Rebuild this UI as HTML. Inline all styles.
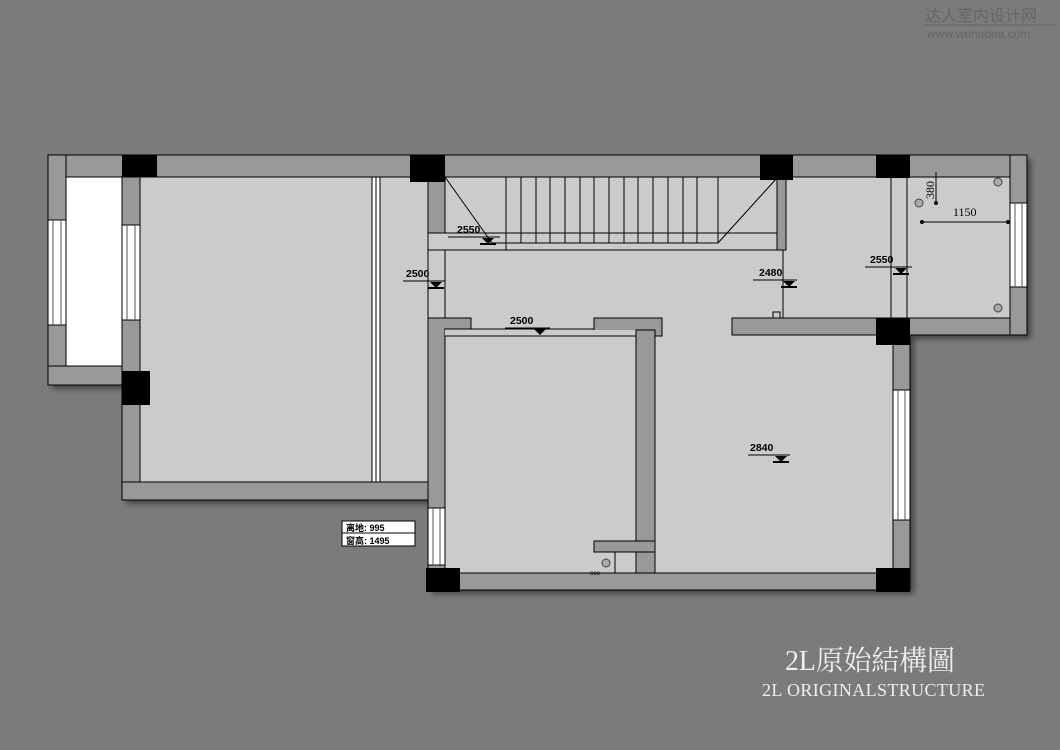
<!DOCTYPE html>
<html><head><meta charset="utf-8"><style>
html,body{margin:0;padding:0;background:#7b7b7b;width:1060px;height:750px;overflow:hidden}
svg{display:block}
.t{font-family:"Liberation Sans",Arial,sans-serif;font-weight:bold;font-size:10.5px;fill:#000}
</style></head><body>
<svg width="1060" height="750" viewBox="0 0 1060 750" xmlns="http://www.w3.org/2000/svg">
<defs>
<filter id="sh" x="-5%" y="-5%" width="115%" height="115%"><feDropShadow dx="4" dy="4" stdDeviation="3" flood-color="#000" flood-opacity="0.45"/></filter>
</defs>
<rect width="1060" height="750" fill="#7b7b7b"/>
<text x="925" y="21" font-family="'Liberation Sans','Noto Sans CJK SC',sans-serif" font-size="16" fill="#666">达人室内设计网</text>
<line x1="925" y1="25" x2="1055" y2="25" stroke="#666" stroke-width="1"/>
<text x="927" y="38" font-family="'Liberation Sans',sans-serif" font-size="12" fill="#666">www.wonadea.com</text>

<g filter="url(#sh)">
<rect x="48" y="155" width="979" height="22" fill="#999"/>
<rect x="48" y="155" width="18" height="230" fill="#999"/>
<rect x="48" y="366" width="92" height="19" fill="#999"/>
<rect x="122" y="177" width="18" height="323" fill="#999"/>
<rect x="122" y="482" width="323" height="18" fill="#999"/>
<rect x="428" y="318" width="17" height="272" fill="#999"/>
<rect x="428" y="573" width="482" height="17" fill="#999"/>
<rect x="893" y="318" width="17" height="272" fill="#999"/>
<rect x="1010" y="155" width="17" height="180" fill="#999"/>
<rect x="732" y="318" width="295" height="17" fill="#999"/>
</g>
<rect x="66" y="177" width="56" height="189" fill="#fff"/>
<rect x="140" y="177" width="288" height="305" fill="#cbcbcb"/>
<rect x="428" y="177" width="582" height="141" fill="#cbcbcb"/>
<rect x="445" y="318" width="448" height="255" fill="#cbcbcb"/>
<g fill="#999" stroke="#000" stroke-width="1">
<rect x="48" y="155" width="979" height="22"/>
<rect x="48" y="155" width="18" height="230"/>
<rect x="48" y="366" width="92" height="19"/>
<rect x="122" y="177" width="18" height="323"/>
<rect x="122" y="482" width="323" height="18"/>
<rect x="428" y="318" width="17" height="272"/>
<rect x="428" y="573" width="482" height="17"/>
<rect x="893" y="318" width="17" height="272"/>
<rect x="1010" y="155" width="17" height="180"/>
<rect x="732" y="318" width="278" height="17"/>
<rect x="428" y="177" width="17" height="56"/>
<rect x="777" y="178" width="9" height="72"/>
<rect x="428" y="318" width="43" height="11"/>
<rect x="594" y="318" width="68" height="18"/>
</g>
<rect x="429" y="330" width="15" height="242" fill="#999"/>
<rect x="429" y="574" width="480" height="15" fill="#999"/>
<rect x="445" y="330" width="191" height="243" fill="#cbcbcb"/>
<rect x="445" y="336" width="191" height="237" fill="#cbcbcb" stroke="#000" stroke-width="1"/>
<g fill="#999" stroke="#000" stroke-width="1">
<rect x="636" y="330" width="19" height="243"/>
<rect x="594" y="541" width="61" height="11"/>
<rect x="615" y="552" width="40" height="21" fill="#cbcbcb"/>
<rect x="636" y="552" width="19" height="21"/>
</g>
<line x1="471" y1="329" x2="594" y2="329" stroke="#000"/>
<rect x="428.5" y="318.5" width="16" height="11" fill="#999"/>
<g fill="#000">
<rect x="122" y="155" width="35" height="22"/>
<rect x="122" y="371" width="28" height="34"/>
<rect x="410" y="155" width="35" height="27"/>
<rect x="760" y="155" width="33" height="25"/>
<rect x="876" y="155" width="34" height="23"/>
<rect x="876" y="318" width="34" height="27"/>
<rect x="426" y="568" width="34" height="24"/>
<rect x="876" y="568" width="34" height="24"/>
</g>
<g fill="#fff" stroke="#000" stroke-width="1">
<rect x="48" y="220" width="18" height="105"/>
<rect x="122" y="225" width="18" height="95"/>
<rect x="428" y="508" width="17" height="57"/>
<rect x="893" y="390" width="17" height="130"/>
<rect x="1010" y="203" width="17" height="84"/>
</g>
<g stroke="#555" stroke-width="1">
<line x1="53" y1="220" x2="53" y2="325"/><line x1="61" y1="220" x2="61" y2="325"/>
<line x1="127" y1="225" x2="127" y2="320"/><line x1="135" y1="225" x2="135" y2="320"/>
<line x1="433" y1="508" x2="433" y2="565"/><line x1="440" y1="508" x2="440" y2="565"/>
<line x1="898" y1="390" x2="898" y2="520"/><line x1="905" y1="390" x2="905" y2="520"/>
<line x1="1015" y1="203" x2="1015" y2="287"/><line x1="1022" y1="203" x2="1022" y2="287"/>
</g>
<rect x="372" y="177" width="8" height="305" fill="#fff" stroke="#000" stroke-width="1"/>
<line x1="376" y1="177" x2="376" y2="482" stroke="#000"/>
<g stroke="#000" stroke-width="1" fill="none">
<line x1="428" y1="233" x2="777" y2="233"/>
<line x1="428" y1="250" x2="777" y2="250"/>
<line x1="428" y1="233" x2="428" y2="318"/>
<line x1="445" y1="250" x2="445" y2="318"/>
<line x1="445" y1="177" x2="492" y2="243"/>
<line x1="718" y1="243" x2="777" y2="178"/>
<polyline points="492,243 506,243 506,250"/>
<line x1="506" y1="243" x2="718" y2="243"/>
<path d="M506 177V243M521 177V243M536 177V243M550 177V243M565 177V243M580 177V243M594 177V243M609 177V243M624 177V243M638 177V243M653 177V243M668 177V243M683 177V243M697 177V243M718 177V243"/>
<line x1="783" y1="250" x2="783" y2="318"/>
<line x1="891" y1="178" x2="891" y2="318"/>
<line x1="907" y1="178" x2="907" y2="318"/>
<path d="M773 318V312H780V318"/>
</g>
<g stroke="#000" stroke-width="1">
<line x1="922" y1="222" x2="1008" y2="222"/><circle cx="922" cy="222" r="1.5"/><circle cx="1008" cy="222" r="1.5"/>
<line x1="936" y1="172" x2="936" y2="203"/><circle cx="936" cy="203" r="1.5"/>
</g>
<text class="t" x="953" y="216" style="font-weight:normal;font-family:'Liberation Serif',serif;font-size:12px">1150</text>
<text class="t" x="0" y="0" transform="translate(934,199) rotate(-90)" style="font-weight:normal;font-family:'Liberation Serif',serif;font-size:12px">380</text>
<g fill="#aaa" stroke="#444">
<circle cx="998" cy="182" r="4"/><circle cx="919" cy="203" r="4"/><circle cx="998" cy="308" r="4"/>
<circle cx="606" cy="563" r="4"/>
</g>
<text x="590" y="575" font-family="Liberation Sans" font-size="6" fill="#000">ooo</text>
<g stroke="#000" stroke-width="1">
<line x1="448" y1="237" x2="500" y2="237"/>
<line x1="403" y1="281" x2="445" y2="281"/>
<line x1="753" y1="280" x2="797" y2="280"/>
<line x1="865" y1="267" x2="912" y2="267"/>
<line x1="505" y1="328" x2="550" y2="328"/>
<line x1="748" y1="455" x2="790" y2="455"/>
</g>
<g fill="#000">
<path d="M482 238h12l-6 6z"/><rect x="480" y="243" width="16" height="2"/>
<path d="M430 282h12l-6 6z"/><rect x="428" y="287" width="16" height="2"/>
<path d="M783 281h12l-6 6z"/><rect x="781" y="286" width="16" height="2"/>
<path d="M895 268h12l-6 6z"/><rect x="893" y="273" width="16" height="2"/>
<path d="M534 329h12l-6 6z"/>
<path d="M775 456h12l-6 6z"/><rect x="773" y="461" width="16" height="2"/>
</g>
<text class="t" x="457" y="233">2550</text>
<text class="t" x="406" y="277">2500</text>
<text class="t" x="759" y="276">2480</text>
<text class="t" x="870" y="263">2550</text>
<text class="t" x="510" y="324">2500</text>
<text class="t" x="750" y="451">2840</text>
<rect x="342" y="521" width="73" height="25" fill="#fff" stroke="#000"/>
<line x1="342" y1="533" x2="415" y2="533" stroke="#000"/>
<text x="346" y="531" font-family="'Liberation Sans','Noto Sans CJK SC',sans-serif" font-weight="bold" font-size="9">离地: 995</text>
<text x="346" y="544" font-family="'Liberation Sans','Noto Sans CJK SC',sans-serif" font-weight="bold" font-size="9">窗高: 1495</text>
<text x="785" y="670" font-family="'Liberation Serif','Noto Serif CJK SC',serif" font-size="28" fill="#eee" textLength="170">2L原始結構圖</text>
<text x="762" y="696" font-family="'Liberation Serif',serif" font-size="18" fill="#eee" textLength="223">2L  ORIGINALSTRUCTURE</text>
</svg>
</body></html>
